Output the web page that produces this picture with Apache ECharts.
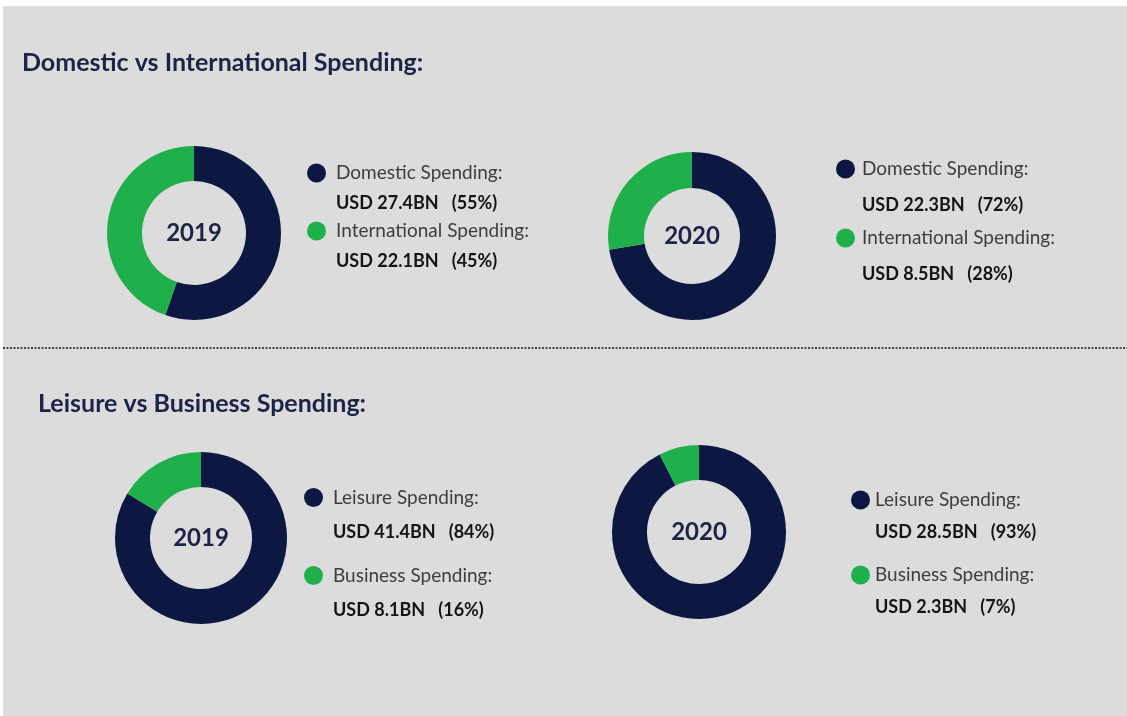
<!DOCTYPE html>
<html>
<head>
<meta charset="utf-8">
<script src="https://cdn.jsdelivr.net/npm/echarts@6/dist/echarts.min.js"></script>
<style>
    html, body { margin: 0; padding: 0; background: #fff; }
    #main { width: 1127px; height: 716px; }
</style>
</head>
<body>
<div id="main"></div>
<script>
// data
var years = ['2019', '2020'];
var domesticNames = ['Domestic Spending', 'International Spending'];
var domesticUsd = [[27.4, 22.1], [22.3, 8.5]];
var domesticPct = [[55, 45], [72, 28]];
var leisureNames = ['Leisure Spending', 'Business Spending'];
var leisureUsd = [[41.4, 8.1], [28.5, 2.3]];
var leisurePct = [[84, 16], [93, 7]];
var sectionTitles = ['Domestic vs International Spending:', 'Leisure vs Business Spending:'];

var sliceColors = ['#0c1742', '#1fb04b'];
var navy = '#1b2347';
var font = 'Lato';

// layout of the four donuts and their legends
var blocks = [
    { names: domesticNames, usd: domesticUsd[0], pct: domesticPct[0], year: years[0],
      center: [194, 233], radius: [52, 87], legendLeft: 307, legendTop: 128, lineH: 30, gap: -32, padL: 5 },
    { names: domesticNames, usd: domesticUsd[1], pct: domesticPct[1], year: years[1],
      center: [692, 236], radius: [48, 84], legendLeft: 836, legendTop: 115, lineH: 36, gap: -39, padL: 2 },
    { names: leisureNames, usd: leisureUsd[0], pct: leisurePct[0], year: years[0],
      center: [201, 538], radius: [51, 86], legendLeft: 304, legendTop: 445, lineH: 35, gap: -27, padL: 5 },
    { names: leisureNames, usd: leisureUsd[1], pct: leisurePct[1], year: years[1],
      center: [699, 532], radius: [52, 87], legendLeft: 851, legendTop: 452, lineH: 32, gap: -21, padL: 0 }
];

var legendInfo = {};
var series = [];
var legends = [];

blocks.forEach(function (b, k) {
    var data = [];
    var legendData = [];
    for (var i = 0; i < b.names.length; i++) {
        var key = b.names[i] + '|' + k;
        legendInfo[key] = { label: b.names[i], usd: b.usd[i], pct: b.pct[i] };
        data.push({
            name: key,
            value: b.usd[i],
            itemStyle: { color: sliceColors[i] },
            label: { show: i === 0 }
        });
        legendData.push(key);
    }
    series.push({
        name: b.year,
        type: 'pie',
        center: b.center,
        radius: b.radius,
        startAngle: 90,
        clockwise: true,
        avoidLabelOverlap: false,
        emphasis: { disabled: true },
        label: {
            position: 'center',
            formatter: '{a}',
            fontFamily: font,
            fontSize: 24,
            fontWeight: 'bold',
            color: navy
        },
        labelLine: { show: false },
        data: data
    });
    legends.push({
        orient: 'vertical',
        left: b.legendLeft,
        top: b.legendTop,
        padding: 0,
        itemGap: b.gap,
        itemWidth: 19,
        itemHeight: 19,
        icon: 'circle',
        selectedMode: false,
        data: legendData,
        formatter: function (name) {
            var info = legendInfo[name];
            return '{n|' + info.label + ':}\n{v|USD ' + info.usd + 'BN   (' + info.pct + '%)}';
        },
        textStyle: {
            padding: [b.lineH, 0, 0, b.padL],
            lineHeight: b.lineH,
            rich: {
                n: { fontFamily: font, fontSize: 19, color: '#3d3d3d', lineHeight: b.lineH },
                v: { fontFamily: font, fontSize: 18, fontWeight: 'bold', color: '#141414', lineHeight: b.lineH }
            }
        }
    });
});

var myChart = echarts.init(document.getElementById('main'));

var option = {
    backgroundColor: '#ffffff',
    animation: false,
    title: [
        {
            text: sectionTitles[0],
            left: 22,
            top: 50,
            padding: 0,
            textStyle: { fontFamily: font, fontSize: 25, fontWeight: 'bold', color: navy }
        },
        {
            text: sectionTitles[1],
            left: 38,
            top: 391,
            padding: 0,
            textStyle: { fontFamily: font, fontSize: 25, fontWeight: 'bold', color: navy }
        }
    ],
    graphic: [
        {
            type: 'rect',
            z: -10,
            shape: { x: 3, y: 6, width: 1124, height: 710 },
            style: { fill: '#dcdcdc' }
        },
        {
            type: 'line',
            shape: { x1: 3, y1: 348, x2: 1127, y2: 348 },
            style: { stroke: '#454545', lineWidth: 2, lineDash: [2, 1.5] }
        }
    ],
    legend: legends,
    series: series
};

myChart.setOption(option);
</script>
</body>
</html>
